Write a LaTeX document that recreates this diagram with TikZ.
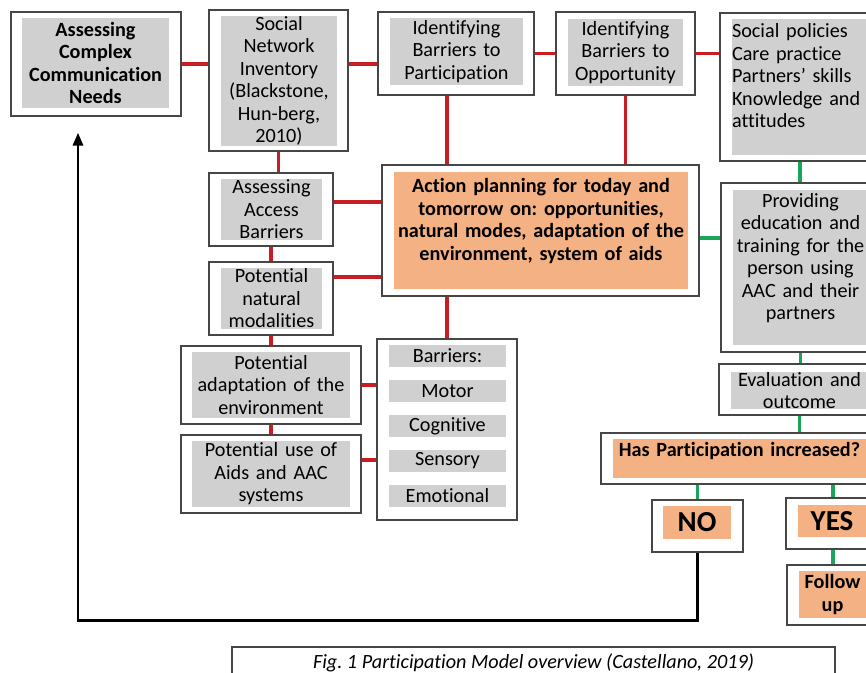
\documentclass[tikz,border=0pt]{standalone}
\usepackage{fontspec}
\setmainfont{Carlito}[Ligatures=NoCommon]
\usetikzlibrary{arrows.meta, positioning, calc}

\definecolor{boxgray}{RGB}{208,208,208}
\definecolor{boxorange}{RGB}{244,177,131}
\definecolor{linkred}{RGB}{200,30,35}
\definecolor{linkgreen}{RGB}{25,165,90}
\definecolor{edgegray}{RGB}{70,70,70}

\begin{document}
\frenchspacing
\begin{tikzpicture}[
    x=0.02cm, y=-0.02cm,
    obox/.style 2 args={draw=edgegray, line width=0.7pt, fill=white,
                        inner sep=0pt, minimum width=#1, minimum height=#2},
    ibox/.style 2 args={inner sep=0pt, align=center, minimum width=#1,
                        text width=#1, minimum height=#2,
                        font=\fontsize{11.5}{12.8}\selectfont},
    graybox/.style={fill=boxgray},
    orangebox/.style={fill=boxorange, font=\fontsize{11.5}{12.8}\selectfont\bfseries},
    redline/.style={draw=linkred, line width=1.8pt},
    greenline/.style={draw=linkgreen, line width=1.8pt},
    back/.style={line width=1.7pt, -{Triangle[length=0.26cm, width=0.2cm]}}
  ]
  \useasboundingbox (0,0) rectangle (866,673);
  \fill[white] (0,0) rectangle (866,673);
  \clip (0,0) rectangle (866,673);

  % left column
  \node[obox={3.4cm}{2.08cm}] (ccn) at (96,64) {};
  \node[ibox={2.94cm}{1.8cm}, graybox, font=\fontsize{11.5}{12.8}\selectfont\bfseries]
    (ccn-in) at (95.5,63) {Assessing\\ Complex\\ Communication\\ Needs};

  \node[obox={2.78cm}{2.82cm}] (sni) at (278.5,80.5) {};
  \node[ibox={2.32cm}{2.56cm}, graybox] (sni-in) at (279,81)
    {Social\\ Network\\ Inventory\\ (Blackstone,\\ Hun-berg,\\ 2010)};

  \node[obox={2.48cm}{1.46cm}] (acc) at (271,209.5) {};
  \node[ibox={2.02cm}{1.22cm}, graybox] (acc-in) at (271.5,209.5)
    {Assessing\\ Access\\ Barriers};

  \node[obox={2.48cm}{1.46cm}] (nat) at (271,298.5) {};
  \node[ibox={2.02cm}{1.22cm}, graybox] (nat-in) at (271.5,298.5)
    {Potential\\ natural\\ modalities};

  \node[obox={3.6cm}{1.56cm}] (env) at (271,385) {};
  \node[ibox={3.16cm}{1.32cm}, graybox] (env-in) at (271,385)
    {Potential\\ adaptation of the\\ environment};

  \node[obox={3.6cm}{1.56cm}] (aid) at (271,474) {};
  \node[ibox={3.16cm}{1.32cm}, graybox] (aid-in) at (271,474)
    {Potential use of\\ Aids and AAC\\ systems};

  % top row
  \node[obox={3.12cm}{1.66cm}] (ibp) at (456,53.5) {};
  \node[ibox={2.66cm}{1.34cm}, graybox] (ibp-in) at (456.5,51.5)
    {Identifying\\ Barriers to\\ Participation};

  \node[obox={2.78cm}{1.66cm}] (ibo) at (625.5,53.5) {};
  \node[ibox={2.3cm}{1.34cm}, graybox] (ibo-in) at (625.5,52.5)
    {Identifying\\ Barriers to\\ Opportunity};

  \node[obox={3.2cm}{2.96cm}] (pol) at (800,87) {};
  \node[ibox={2.72cm}{2.72cm}, graybox, align=left] (pol-in) at (800,87)
    {Social policies\\ Care practice\\ Partners' skills\\ Knowledge and\\ attitudes\\ \mbox{}};

  % centre
  \node[obox={6.34cm}{2.62cm}] (act) at (540.5,230.5) {};
  \node[ibox={5.88cm}{2.34cm}, orangebox] (act-in) at (541,230.5)
    {Action planning for today and\\ tomorrow on: opportunities,\\
     natural modes, adaptation of the\\ environment, system of aids\\ \mbox{}};

  \node[obox={2.8cm}{3.62cm}] (bar) at (447,429.5) {};
  \foreach \t [count=\i from 0] in {Barriers:, Motor, Cognitive, Sensory, Emotional}
    \node[ibox={2.34cm}{0.44cm}, graybox] (bar\i) at (447.5, 356+\i*35) {\t};

  % right column
  \node[obox={3.18cm}{3.38cm}] (edu) at (800.5,267.5) {};
  \node[ibox={2.7cm}{3.1cm}, graybox] (edu-in) at (800.5,267.5)
    {Providing\\ education and\\ training for the\\ person using\\ AAC and their\\ partners\\ \mbox{}};

  \node[obox={3.22cm}{1.02cm}] (eva) at (799.5,389.5) {};
  \node[ibox={2.74cm}{0.74cm}, graybox] (eva-in) at (799.5,390.5)
    {Evaluation and\\ outcome};

  \node[obox={5.58cm}{1.02cm}] (has) at (740.5,458.5) {};
  \node[ibox={5.06cm}{0.78cm}, orangebox, text height=0.34cm, text depth=0.44cm]
    (has-in) at (739.5,458.5) {Has Participation increased?};

  \node[obox={1.82cm}{1.04cm}] (no) at (697.5,526) {};
  \node[ibox={1.36cm}{0.66cm}, orangebox, font=\fontsize{16.5}{18}\selectfont\bfseries]
    (no-in) at (697,522.5) {NO};

  \node[obox={1.88cm}{1.02cm}] (yes) at (833,523.5) {};
  \node[ibox={1.36cm}{0.64cm}, orangebox, font=\fontsize{16.5}{18}\selectfont\bfseries]
    (yes-in) at (832,521) {YES};

  \node[obox={1.86cm}{1.2cm}] (fol) at (833.5,595) {};
  \node[ibox={1.34cm}{0.94cm}, orangebox] (fol-in) at (832.5,594.5) {Follow\\ up};

  % caption
  \node[obox={12.06cm}{0.64cm}, font=\fontsize{11.5}{12.8}\selectfont\itshape]
    (cap) at (533.5,663) {Fig. 1 Participation Model overview (Castellano, 2019)};

  % red links
  \coordinate (ibpfoot) at ([xshift=-0.18cm]ibp.south);
  \coordinate (acclink) at ([yshift=0.15cm]acc.east);
  \coordinate (natlink) at ([yshift=0.43cm]nat.east);
  \coordinate (aidlink) at ([yshift=0.28cm]aid.east);
  \draw[redline] (ccn.east) -- (ccn.east -| sni.west);
  \draw[redline] (sni.east |- ccn.east) -- (ibp.west |- ccn.east);
  \draw[redline] (ibp.east) -- (ibo.west);
  \draw[redline] (ibo.east) -- (ibo.east -| pol.west);
  \draw[redline] (ibpfoot) -- (ibpfoot |- act.north);
  \draw[redline] (ibo.south) -- (ibo.south |- act.north);
  \draw[redline] (sni.south) -- (sni.south |- acc.north);
  \draw[redline] (acclink) -- (acclink -| act.west);
  \draw[redline] (acc.south) -- (nat.north);
  \draw[redline] (natlink) -- (natlink -| act.west);
  \draw[redline] (bar.north |- act.south) -- (bar.north);
  \draw[redline] (nat.south) -- (env.north);
  \draw[redline] (env.east) -- (env.east -| bar.west);
  \draw[redline] (env.south) -- (aid.north);
  \draw[redline] (aidlink) -- (aidlink -| bar.west);

  % green links
  \coordinate (actlink) at ([yshift=-0.15cm]act.east);
  \draw[greenline] (pol.south) -- (pol.south |- edu.north);
  \draw[greenline] (actlink) -- (actlink -| edu.west);
  \draw[greenline] (edu.south) -- (edu.south |- eva.north);
  \draw[greenline] (eva.south) -- (eva.south |- has.north);
  \draw[greenline] (no.north |- has.south) -- (no.north);
  \draw[greenline] (yes.north |- has.south) -- (yes.north);
  \draw[greenline] (yes.south) -- (yes.south |- fol.north);

  % loop back
  \draw[back] (no.south) -- ++(0,68) -| ([xshift=-0.36cm, yshift=-0.32cm]ccn.south);
\end{tikzpicture}
\end{document}
